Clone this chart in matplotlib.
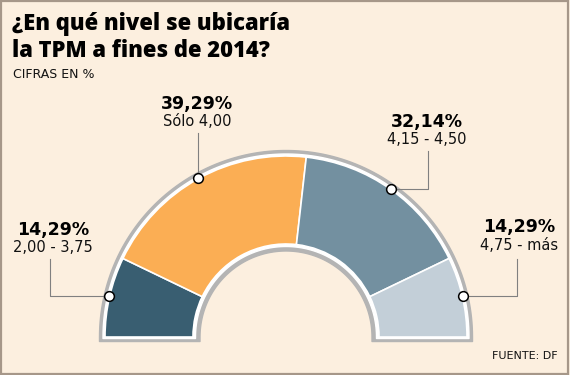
import numpy as np
import matplotlib.pyplot as plt
from matplotlib.patches import Wedge, Polygon, Rectangle

# Datos: distribución de respuestas (encuesta DF)
porcentajes = [14.29, 39.29, 32.14, 14.29]
etiquetas_pct = ['14,29%', '39,29%', '32,14%', '14,29%']
rangos = ['2,00 - 3,75', 'Sólo 4,00', '4,15 - 4,50', '4,75 - más']
colores = ['#395e71', '#fbae54', '#7390a0', '#c3cfd8']

W, H = 570, 375
fig = plt.figure(figsize=(W / 100, H / 100), dpi=100)
fig.patch.set_facecolor('#fcefdf')
ax = fig.add_axes([0, 0, 1, 1])
ax.set_xlim(0, W)
ax.set_ylim(0, H)
ax.axis('off')

def y(v):
    # coordenada de imagen -> coordenada del eje
    return H - v

cx, cy = 286, 38
r_in, r_out = 93, 181

def media_corona(ri, ro, yb, color, z):
    t = np.linspace(0, np.pi, 120)
    pts = [(cx + ro * np.cos(a), cy + ro * np.sin(a)) for a in t]
    pts += [(cx - ro, yb), (cx - ri, yb)]
    pts += [(cx + ri * np.cos(a), cy + ri * np.sin(a)) for a in t[::-1]]
    pts += [(cx + ri, yb), (cx + ro, yb)]
    ax.add_patch(Polygon(pts, closed=True, facecolor=color, edgecolor=color,
                         lw=1, joinstyle='round', zorder=z))

# borde gris y filete blanco
media_corona(r_in - 7, r_out + 5.5, cy - 4.5, '#b4b4b4', 1)
media_corona(r_in - 2.5, r_out + 2, cy - 1.5, 'white', 2)

total = sum(porcentajes)
angulo = 180.0
medios = []
for p, c in zip(porcentajes, colores):
    barrido = p / total * 180.0
    ax.add_patch(Wedge((cx, cy), r_out, angulo - barrido, angulo, width=r_out - r_in,
                       facecolor=c, edgecolor='white', lw=1.2, zorder=3))
    medios.append(angulo - barrido / 2)
    angulo -= barrido

# marcadores y líneas guía
r_m = r_out + 1
pm = [(cx + r_m * np.cos(np.radians(a)), cy + r_m * np.sin(np.radians(a))) for a in medios]
codos = [(50, y(259)), (None, y(133)), (428, y(151)), (517, y(259))]
textos = [(53, 230, 248), (197, 104, 122), (427, 122, 140), (519, 227, 245)]

for (mx, my), (ex, ey), (tx, ty1, ty2), pct, rg in zip(pm, codos, textos, etiquetas_pct, rangos):
    if ex is None:
        ax.plot([mx, mx], [my, ey], color='#808080', lw=0.8, zorder=4)
    else:
        ax.plot([mx, ex, ex], [my, my, ey], color='#808080', lw=0.8, zorder=4)
    ax.plot(mx, my, 'o', ms=7, mfc='white', mec='black', mew=1.1, zorder=5)
    ax.text(tx, y(ty1), pct, ha='center', va='center', fontsize=12.5,
            fontweight='bold', color='black')
    ax.text(tx, y(ty2), rg, ha='center', va='center', fontsize=10.5, color='#111111')

# títulos
tit = dict(ha='left', va='center', fontsize=15.8, fontweight='heavy',
           family='Open Sans', color='black')
ax.text(12, y(24), '¿En qué nivel se ubicaría', **tit)
ax.text(12, y(51), 'la TPM a fines de 2014?', **tit)
ax.text(13, y(74), 'CIFRAS EN %', ha='left', va='center', fontsize=9, color='#111111')
ax.text(558, y(356), 'FUENTE: DF', ha='right', va='center', fontsize=8, color='#111111')

# marco
fig.patches.append(Rectangle((0.002, 0.003), 0.995, 0.994, transform=fig.transFigure,
                             fill=False, edgecolor='#a69789', lw=1.6))

fig.savefig('out.png', dpi=100, facecolor=fig.get_facecolor())
